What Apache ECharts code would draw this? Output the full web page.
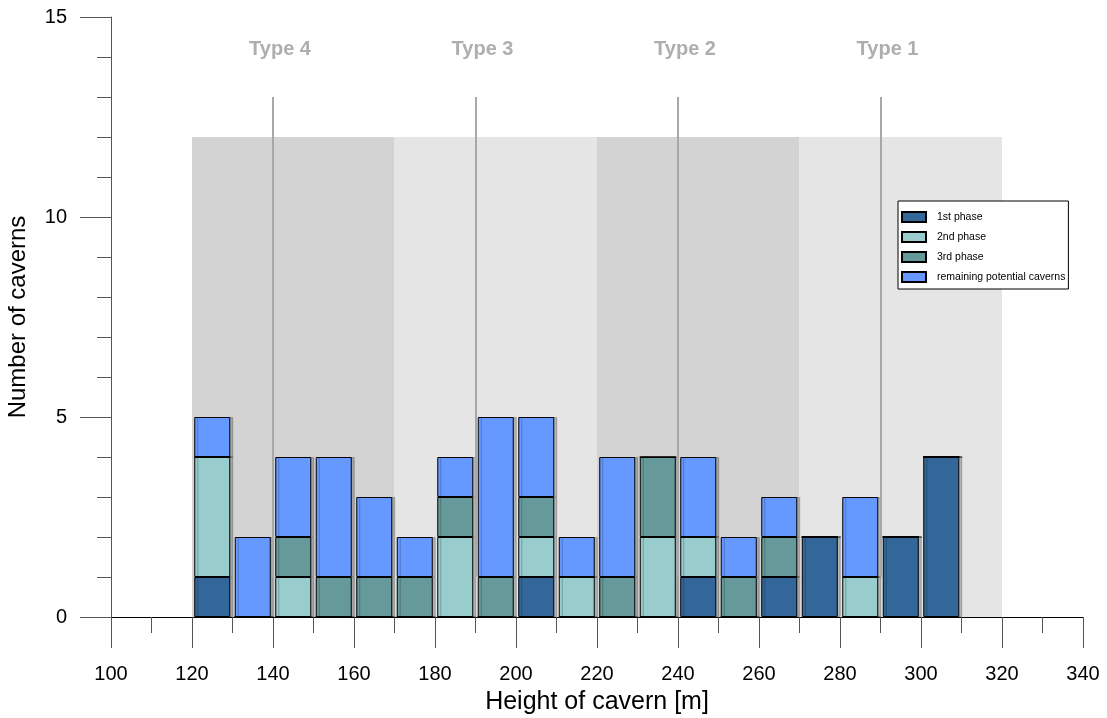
<!DOCTYPE html>
<html><head><meta charset="utf-8">
<script src="https://cdn.jsdelivr.net/npm/echarts@6/dist/echarts.min.js"></script>
<style>html,body{margin:0;padding:0;background:#fff}#c{width:1107px;height:718px}</style>
</head><body><div id="c"></div>
<script>
// bins of 10 m; bar drawn in the bin starting at binStart
const binStart = [100,110,120,130,140,150,160,170,180,190,200,210,220,230,240,250,260,270,280,290,300,310,320,330];
const barBins =  [120,130,140,150,160,170,180,190,200,210,220,230,240,250,260,270,280,290,300];
const phase1 =    [1,0,0,0,0,0,0,0,1,0,0,0,1,0,1,2,0,2,4];
const phase2 =    [3,0,1,0,0,0,2,0,1,1,0,2,1,0,0,0,1,0,0];
const phase3 =    [0,0,1,1,1,1,1,1,1,0,1,2,0,1,1,0,0,0,0];
const remaining = [1,2,2,3,2,1,1,4,2,1,3,0,2,1,1,0,2,0,0];
const seriesNames = ['1st phase','2nd phase','3rd phase','remaining potential caverns'];
const seriesColors = ['#336699','#99CCCC','#669999','#6699FF'];
const bandStart = [120,170,220,270];
const bandEnd =   [170,220,270,320];
const bandTop = 12;
const bandColors = ['#D3D3D3','#E5E5E5','#D3D3D3','#E5E5E5'];
const typeNames = ['Type 4','Type 3','Type 2','Type 1'];
const typeLineX = [140,190,240,290];
const typeLineFrom = 1, typeLineTo = 13, typeLabelY = 14.2;

const chart = echarts.init(document.getElementById('c'));
const valuesList = [phase1, phase2, phase3, remaining];
const barSeries = valuesList.map((vals, i) => ({
  name: seriesNames[i],
  type: 'bar',
  stack: 'all',
  xAxisIndex: 1,
  barWidth: 36,
  z: 3,
  itemStyle: {color: seriesColors[i], borderColor: '#000', borderWidth: 1,
    shadowColor: 'rgba(0,0,0,0.22)', shadowOffsetX: 3, shadowOffsetY: 0, shadowBlur: 0},
  emphasis: {disabled: true},
  data: binStart.map(b => {
    const k = barBins.indexOf(b);
    return k < 0 ? '-' : vals[k];
  })
}));

const bgSeries = {
  name: 'bg', type: 'line', data: [], z: 1, silent: true, xAxisIndex: 0,
  markArea: {silent: true,
    data: bandStart.map((s, i) => [
      {xAxis: s, yAxis: 0, itemStyle: {color: bandColors[i], opacity: 1}},
      {xAxis: bandEnd[i], yAxis: bandTop}])},
  markLine: {silent: true, symbol: ['none','none'], label: {show: false},
    lineStyle: {color: '#A8A8A8', width: 2, type: 'solid'},
    data: typeLineX.map(x => [{coord: [x, typeLineFrom]}, {coord: [x, typeLineTo]}])}
};
const labelSeries = {
  name: 'types', type: 'scatter', symbolSize: 0, z: 4, silent: true, xAxisIndex: 0,
  data: typeLineX.map((x, i) => ({value: [x, typeLabelY], name: typeNames[i]})),
  label: {show: true, position: 'inside', offset: [7, 0], formatter: p => p.name,
    color: '#9A9A9A', fontWeight: 'bold', fontSize: 20, fontFamily: 'Liberation Sans, Arial'}
};

chart.setOption({
  animation: false,
  textStyle: {fontFamily: 'Liberation Sans, Arial, sans-serif'},
  grid: {left: 111, right: 24, top: 17, bottom: 101, containLabel: false, outerBoundsMode: 'none'},
  legend: {
    data: seriesNames, orient: 'vertical', left: 898, top: 201,
    icon: 'rect',
    itemWidth: 24, itemHeight: 10, itemGap: 8,
    padding: [10, 3, 6, 3],
    backgroundColor: '#fff', borderColor: '#000', borderWidth: 1,
    textStyle: {fontSize: 10.5, lineHeight: 10, color: '#000', padding: [0, 0, 0, 6]},
    selectedMode: false
  },
  xAxis: [{
    type: 'value', min: 100, max: 340, interval: 20,
    name: 'Height of cavern [m]', nameLocation: 'middle', nameGap: 73,
    nameTextStyle: {fontSize: 25, color: '#000'},
    axisLine: {lineStyle: {color: '#000', width: 1}},
    axisTick: {show: true, length: 31, lineStyle: {color: '#555'}},
    minorTick: {show: true, splitNumber: 2, length: 16, lineStyle: {color: '#555'}},
    axisLabel: {fontSize: 20, color: '#000', margin: 47},
    splitLine: {show: false}
  }, {
    type: 'category', data: binStart.map(String), boundaryGap: true,
    show: false
  }],
  yAxis: {
    type: 'value', min: 0, max: 15, interval: 5,
    name: 'Number of caverns', nameLocation: 'middle', nameGap: 81,
    nameTextStyle: {fontSize: 24, color: '#000'},
    axisLine: {show: true, lineStyle: {color: '#555', width: 1}},
    axisTick: {show: true, length: 31, lineStyle: {color: '#555'}},
    minorTick: {show: true, splitNumber: 5, length: 14, lineStyle: {color: '#555'}},
    axisLabel: {fontSize: 20, color: '#000', margin: 44},
    splitLine: {show: false}
  },
  series: [bgSeries, ...barSeries, labelSeries]
});
</script></body></html>
